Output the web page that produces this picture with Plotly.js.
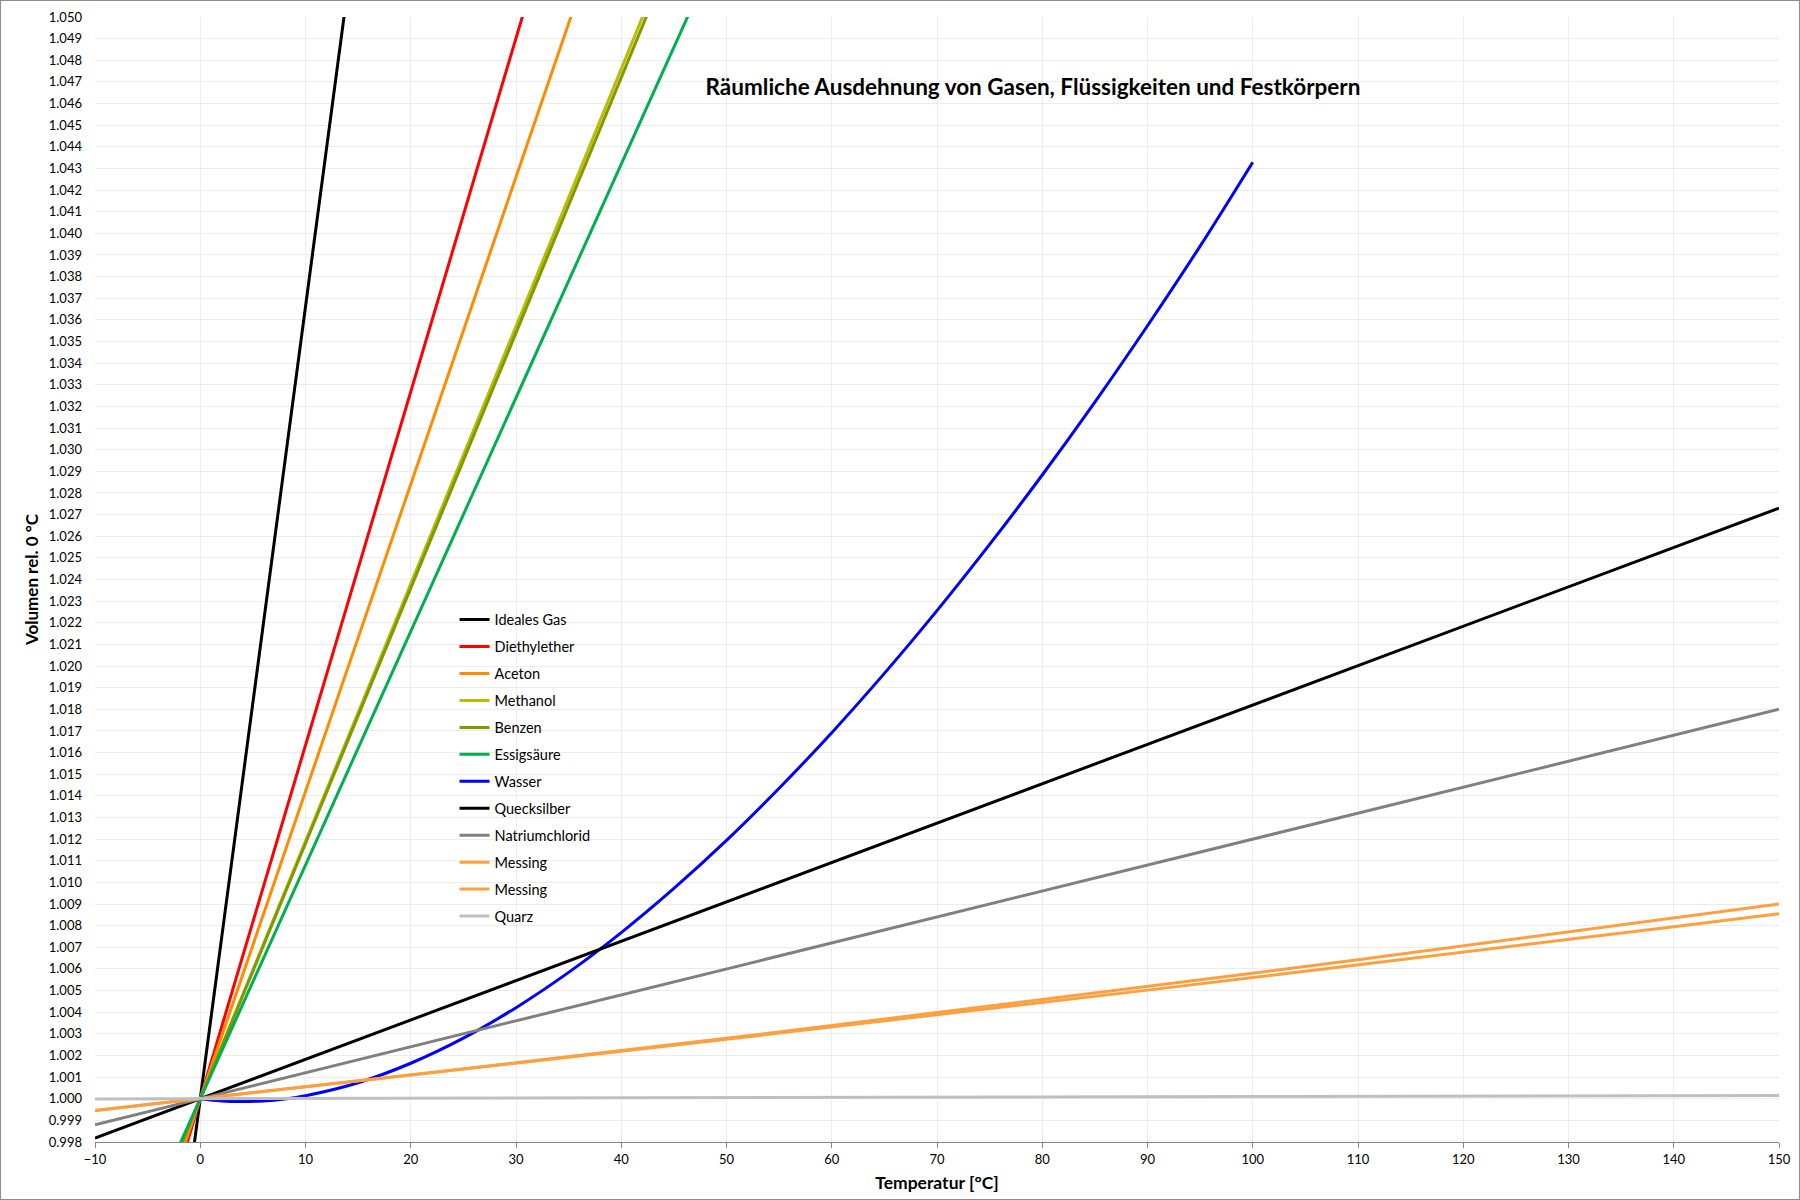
<!DOCTYPE html>
<html><head><meta charset="utf-8">
<script src="https://cdn.plot.ly/plotly-3.0.1.min.js"></script>
<style>
html,body{margin:0;padding:0;background:#fff}
#chart{width:1800px;height:1200px}
#frame{position:absolute;left:0;top:0;width:1800px;height:1200px;box-sizing:border-box;border:1px solid #8c8c8c;pointer-events:none}
</style>
</head><body><div id="chart"></div><div id="frame"></div>
<script>
// Temperatures (°C)
var tempsFull = [-10, 0, 10, 20, 30, 40, 50, 60, 70, 80, 90, 100, 110, 120, 130, 140, 150];
var tempsShort = [-10, 0, 10, 20, 30, 40, 50];
var tempsWater = [0, 2, 4, 6, 8, 10, 15, 20, 25, 30, 35, 40, 45, 50, 55, 60, 65, 70, 75, 80, 85, 90, 95, 100];

// Relative volumes V(T)/V(0 °C)
var idealesGas   = [0.96339, 1.00000, 1.03661, 1.07322, 1.10983, 1.14644, 1.18305];
var diethylether = [0.98366, 1.00000, 1.01634, 1.03268, 1.04902, 1.06536, 1.08170];
var aceton       = [0.98580, 1.00000, 1.01420, 1.02840, 1.04260, 1.05680, 1.07100];
var methanol     = [0.98810, 1.00000, 1.01190, 1.02380, 1.03570, 1.04760, 1.05950];
var benzen       = [0.98820, 1.00000, 1.01180, 1.02360, 1.03540, 1.04720, 1.05900];
var essigsaeure  = [0.98920, 1.00000, 1.01080, 1.02160, 1.03240, 1.04320, 1.05400];
var wasser       = [1.00000, 0.99990, 0.99987, 0.99990, 0.99999, 1.00014, 1.00074, 1.00164, 1.00280, 1.00421,
                    1.00584, 1.00768, 1.00972, 1.01194, 1.01435, 1.01692, 1.01966, 1.02256, 1.02562, 1.02883,
                    1.03220, 1.03573, 1.03941, 1.04329];
var quecksilber  = [0.99818, 1.00000, 1.00182, 1.00364, 1.00546, 1.00728, 1.00910, 1.01092, 1.01274, 1.01456,
                    1.01638, 1.01820, 1.02002, 1.02184, 1.02366, 1.02548, 1.02730];
var natrium      = [0.99880, 1.00000, 1.00120, 1.00240, 1.00360, 1.00480, 1.00600, 1.00720, 1.00840, 1.00960,
                    1.01080, 1.01200, 1.01320, 1.01440, 1.01560, 1.01680, 1.01800];
var messing1     = [0.99946, 1.00000, 1.00054, 1.00110, 1.00166, 1.00222, 1.00280, 1.00338, 1.00398, 1.00458,
                    1.00518, 1.00580, 1.00642, 1.00706, 1.00770, 1.00834, 1.00900];
var messing2     = [0.99946, 1.00000, 1.00054, 1.00109, 1.00164, 1.00219, 1.00275, 1.00331, 1.00388, 1.00445,
                    1.00502, 1.00560, 1.00618, 1.00677, 1.00736, 1.00795, 1.00855];
var quarz        = [0.99999, 1.00000, 1.00001, 1.00002, 1.00003, 1.00004, 1.00005, 1.00006, 1.00007, 1.00008,
                    1.00009, 1.00010, 1.00011, 1.00012, 1.00013, 1.00014, 1.00015];

var seriesNames = ['Ideales Gas', 'Diethylether', 'Aceton', 'Methanol', 'Benzen', 'Essigsäure', 'Wasser',
                   'Quecksilber', 'Natriumchlorid', 'Messing', 'Messing', 'Quarz'];
var seriesColors = ['#000000', '#ff0000', '#ff8c00', '#bcbc00', '#7f9a00', '#00b050', '#0000ff',
                    '#000000', '#808080', '#ffa040', '#ffa040', '#bfbfbf'];
var seriesX = [tempsShort, tempsShort, tempsShort, tempsShort, tempsShort, tempsShort, tempsWater,
               tempsFull, tempsFull, tempsFull, tempsFull, tempsFull];
var seriesY = [idealesGas, diethylether, aceton, methanol, benzen, essigsaeure, wasser,
               quecksilber, natrium, messing1, messing2, quarz];

var FONT = 'Lato, "Open Sans", sans-serif';

var traces = seriesNames.map(function (n, i) {
  return {
    type: 'scatter', mode: 'lines', name: n, legendgroup: 'g' + i,
    x: seriesX[i], y: seriesY[i],
    line: {color: seriesColors[i], width: 3, shape: i === 6 ? 'spline' : 'linear'}
  };
});

var layout = {
  width: 1800, height: 1200,
  paper_bgcolor: '#ffffff', plot_bgcolor: '#ffffff',
  margin: {l: 95, r: 21, t: 17, b: 58},
  font: {family: FONT, color: '#000000', size: 13},
  title: {
    text: '<b>Räumliche Ausdehnung von Gasen, Flüssigkeiten und Festkörpern</b>',
    font: {family: FONT, size: 22.5, color: '#000000'},
    xref: 'paper', x: 0.557, xanchor: 'center',
    yref: 'container', y: 1 - 87 / 1200, yanchor: 'middle'
  },
  showlegend: true,
  legend: {
    x: 0.2135, y: 0.4785, xanchor: 'left', yanchor: 'top',
    bgcolor: 'rgba(0,0,0,0)', font: {family: FONT, size: 14.5, color: '#000000'},
    traceorder: 'grouped', tracegroupgap: 5.1, itemwidth: 30
  },
  xaxis: {
    range: [-10, 150], dtick: 10, tick0: 0,
    showgrid: true, gridcolor: '#ececec', gridwidth: 1,
    zeroline: false, showline: true, linecolor: '#868686', linewidth: 1,
    ticks: 'outside', ticklen: 5, tickcolor: '#868686',
    tickfont: {family: FONT, size: 13, color: '#000000'},
    title: {text: '<b>Temperatur [°C]</b>', font: {family: FONT, size: 17.5, color: '#000000'}, standoff: 11}
  },
  yaxis: {
    range: [0.998, 1.050], dtick: 0.001, tick0: 0.998, tickformat: '.3f',
    showgrid: true, gridcolor: '#ececec', gridwidth: 1,
    zeroline: false, showline: false, ticks: '',
    ticklabelstandoff: 12,
    tickfont: {family: FONT, size: 13, color: '#000000'},
    title: {text: '<b>Volumen rel. 0 °C</b>', font: {family: FONT, size: 17, color: '#000000'}, standoff: 5}
  }
};

Plotly.newPlot('chart', traces, layout, {displayModeBar: false, staticPlot: true});
</script></body></html>
